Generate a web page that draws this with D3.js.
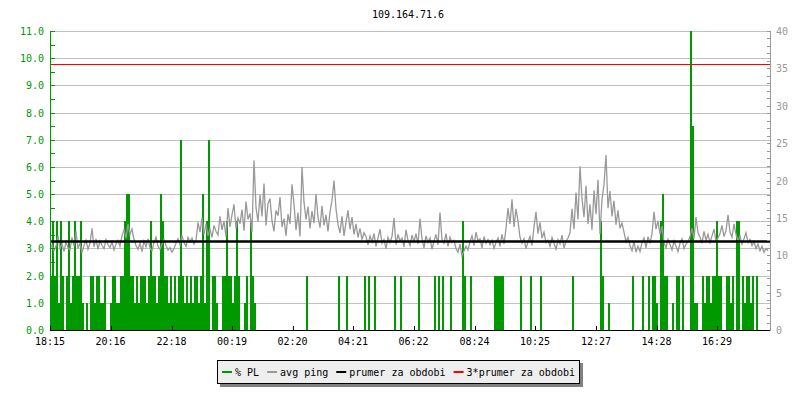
<!DOCTYPE html>
<html>
<head>
<meta charset="utf-8">
<script src="https://cdn.jsdelivr.net/npm/d3@7"></script>
<style>
	body { margin: 0; background: #fff; }
	text { font-family: "DejaVu Sans Mono", monospace; font-size: 10px; }
</style>
</head>
<body>
<script>
var title = "109.164.71.6";
var startTime = new Date(2024, 0, 1, 18, 15);
var stepMinutes = 4;
var totalMinutes = 1440;

var timeLabels = ["18:15", "20:16", "22:18", "00:19", "02:20", "04:21", "06:22", "08:24", "10:25", "12:27", "14:28", "16:29"];
var plTicks = [0, 1, 2, 3, 4, 5, 6, 7, 8, 9, 10, 11];
var pingTicks = [0, 5, 10, 15, 20, 25, 30, 35, 40];

var legendLabels = ["% PL", "avg ping", "prumer za obdobi", "3*prumer za obdobi"];

// avg ping (ms), one value every 4 minutes
var pingValues = [
	10.8, 11.4, 10.6, 11.2, 12.6, 10.9, 11.5, 10.5, 11.8, 11.0,
	10.7, 12.4, 11.2, 13.2, 10.9, 11.6, 10.4, 11.3, 12.0, 10.8,
	11.6, 13.6, 11.1, 12.2, 10.8, 11.9, 11.3, 10.9, 12.1, 11.4,
	11.0, 11.8, 10.7, 11.5, 12.0, 11.2, 12.6, 13.4, 12.3, 14.2,
	12.8, 13.5, 12.1, 11.3, 10.8, 11.6, 10.5, 11.9, 11.1, 12.2,
	11.0, 10.6, 11.7, 12.4, 11.2, 10.8, 11.5, 12.1, 11.3, 10.7,
	11.0, 10.4, 10.9, 11.6, 12.2, 11.4, 12.6, 11.7, 11.2, 12.4,
	11.8, 12.3, 11.5, 12.0, 14.4, 13.1, 15.0, 12.8, 14.2, 12.6,
	13.5, 12.4, 14.0, 13.2, 12.7, 15.2, 13.4, 14.6, 12.5, 16.3,
	13.8, 15.4, 16.8, 13.6, 15.0, 14.2, 16.1, 13.3, 17.2, 14.8,
	15.6, 13.1, 22.7, 16.4, 14.5, 18.1, 15.2, 19.6, 14.0, 16.9,
	17.6, 14.6, 13.2, 16.0, 15.3, 17.8, 13.8, 14.9, 12.6, 15.5,
	14.2, 19.5, 16.8, 13.4, 15.7, 12.5, 21.8, 17.1, 14.8, 16.5,
	13.6, 15.9, 14.3, 18.2, 15.1, 13.7, 16.6, 14.0, 15.4, 13.2,
	15.8, 17.3, 20.0, 16.2, 14.1, 13.0, 15.2, 12.6, 14.4, 16.0,
	13.5, 15.1, 12.8, 14.2, 12.4, 13.6, 12.1, 13.0, 12.5, 11.4,
	12.6, 11.8, 12.9, 11.2, 12.3, 13.5, 11.6, 12.1, 10.9, 12.4,
	11.7, 12.5, 15.0, 11.4, 12.8, 11.9, 12.3, 11.1, 13.4, 12.0,
	11.3, 12.7, 11.8, 12.9, 11.5, 14.9, 12.2, 11.0, 12.6, 11.7,
	12.3, 10.8, 11.9, 12.8, 11.4, 15.7, 12.1, 11.6, 12.9, 11.2,
	12.4, 11.7, 12.0, 10.9, 10.4, 11.5, 9.9, 10.6, 11.2, 10.7,
	11.8, 12.6, 11.3, 13.1, 11.9, 12.2, 11.0, 12.5, 11.6, 12.1,
	11.4, 12.0, 10.9, 11.7, 12.3, 11.2, 12.8, 11.5, 13.6, 16.3,
	14.2, 17.5, 13.8, 16.2, 14.6, 12.4, 11.6, 12.2, 10.9, 11.8,
	12.5, 11.3, 13.8, 15.8, 12.9, 14.4, 12.3, 13.1, 11.7, 12.0,
	11.2, 12.4, 11.6, 10.8, 12.1, 11.5, 12.7, 11.0, 11.9, 12.3,
	13.0, 16.2, 13.5, 18.4, 14.8, 21.9, 17.6, 15.1, 19.3, 14.2,
	16.8, 13.4, 18.7, 15.5, 20.1, 12.8, 17.4, 19.5, 23.4, 16.3,
	18.6, 15.2, 17.3, 14.1, 16.0, 13.6, 14.3, 13.1, 11.8, 12.4,
	11.3, 10.6, 11.9, 10.4, 11.2, 10.5, 11.7, 12.3, 11.0, 12.5,
	11.6, 12.9, 15.8, 13.5, 14.6, 12.8, 13.9, 11.7, 11.0, 12.1,
	11.4, 10.7, 11.9, 11.2, 10.5, 11.6, 12.2, 10.9, 11.5, 11.8,
	12.5, 13.6, 12.2, 15.1, 13.0, 12.4, 11.6, 13.2, 12.0, 12.8,
	11.7, 12.6, 13.5, 11.9, 12.3, 12.9, 14.0, 12.5, 13.3, 15.4,
	13.1, 12.4, 14.2, 12.8, 11.9, 12.6, 11.5, 12.2, 13.0, 11.7,
	12.1, 11.3, 11.8, 10.9, 11.5, 10.6, 11.2, 10.4, 10.9, 10.6
];

// packet loss (%), same 4 minute steps
var plValues = [
	2, 4, 2, 4, 1, 4, 2, 0, 2, 4,
	1, 2, 4, 2, 2, 4, 1, 0, 1, 0,
	2, 2, 1, 2, 2, 1, 1, 2, 0, 0,
	1, 2, 2, 1, 1, 2, 2, 4, 5, 5,
	2, 2, 1, 2, 1, 2, 2, 2, 1, 2,
	4, 2, 2, 1, 2, 5, 4, 2, 2, 1,
	2, 1, 2, 1, 2, 7, 2, 1, 2, 1,
	2, 1, 2, 2, 1, 2, 5, 1, 4, 7,
	0, 2, 2, 1, 0, 0, 2, 2, 4, 2,
	2, 1, 2, 4, 2, 0, 0, 1, 2, 0,
	4, 2, 1, 0, 0, 0, 0, 0, 0, 0,
	0, 0, 0, 0, 0, 0, 0, 0, 0, 0,
	0, 0, 0, 0, 0, 0, 0, 0, 2, 0,
	0, 0, 0, 0, 0, 0, 0, 0, 0, 0,
	0, 0, 0, 0, 2, 0, 0, 0, 2, 0,
	0, 0, 0, 0, 0, 0, 0, 2, 0, 2,
	0, 0, 2, 0, 0, 0, 0, 0, 0, 0,
	0, 0, 2, 0, 0, 2, 0, 0, 0, 0,
	0, 0, 0, 0, 2, 0, 0, 0, 0, 0,
	0, 0, 2, 0, 2, 0, 2, 0, 0, 0,
	2, 0, 0, 0, 0, 0, 4, 2, 0, 0,
	2, 0, 0, 0, 0, 0, 0, 0, 0, 0,
	0, 0, 2, 2, 2, 2, 2, 0, 0, 0,
	0, 0, 0, 0, 0, 2, 0, 0, 0, 0,
	2, 0, 0, 0, 0, 2, 0, 0, 0, 0,
	0, 0, 0, 0, 0, 0, 0, 0, 0, 0,
	0, 2, 0, 0, 0, 0, 0, 0, 0, 0,
	0, 0, 0, 0, 0, 4, 2, 0, 0, 1,
	0, 0, 0, 0, 0, 0, 0, 0, 0, 0,
	0, 2, 0, 0, 0, 0, 2, 0, 0, 2,
	0, 2, 2, 1, 0, 4, 5, 2, 2, 0,
	0, 1, 0, 2, 2, 0, 2, 0, 0, 0,
	11, 7.5, 1, 1, 0, 0, 2, 1, 2, 2,
	1, 2, 2, 4, 2, 2, 0, 0, 2, 2,
	1, 2, 0, 4, 4, 0, 2, 1, 2, 2,
	1, 2, 0, 2, 0, 0, 0, 0, 0, 0
];

var pingMean = 11.84;

var width = 800;
var height = 400;
var plotLeft = 50, plotRight = 770, plotTop = 31, plotBottom = 330;

var green = "#009900";
var grey = "#999999";

var svg = d3.select("body").append("svg")
	.attr("width", width)
	.attr("height", height);

var endTime = d3.timeMinute.offset(startTime, totalMinutes);
var x = d3.scaleTime().domain([startTime, endTime]).range([plotLeft, plotRight]);
var yPL = d3.scaleLinear().domain([0, 11]).range([plotBottom, plotTop]);
var yPing = d3.scaleLinear().domain([0, 40]).range([plotBottom, plotTop]);

function sampleTime(i) {
	return d3.timeMinute.offset(startTime, i * stepMinutes);
}

function labelTime(s) {
	var p = s.split(":");
	var m = (+p[0] * 60 + +p[1]) - (startTime.getHours() * 60 + startTime.getMinutes());
	if (m < 0) m += 1440;
	return d3.timeMinute.offset(startTime, m);
}

/* title */
svg.append("text")
	.attr("x", 408)
	.attr("y", 18)
	.attr("text-anchor", "middle")
	.attr("fill", "#000")
	.text(title);

/* grid */
svg.append("g")
	.selectAll("line")
	.data(plTicks)
	.enter().append("line")
		.attr("x1", plotLeft)
		.attr("x2", plotRight)
		.attr("y1", function(d) { return Math.round(yPL(d)) + 0.5; })
		.attr("y2", function(d) { return Math.round(yPL(d)) + 0.5; })
		.attr("stroke", "#c0c0c0");

/* packet loss bars */
var plData = plValues.map(function(v, i) { return { t: sampleTime(i), t2: sampleTime(i + 1), v: v }; })
	.filter(function(d) { return d.v > 0; });

svg.append("g")
	.attr("shape-rendering", "crispEdges")
	.selectAll("rect")
	.data(plData)
	.enter().append("rect")
		.attr("x", function(d) { return x(d.t); })
		.attr("width", function(d) { return x(d.t2) - x(d.t); })
		.attr("y", function(d) { return yPL(d.v); })
		.attr("height", function(d) { return yPL(0) - yPL(d.v); })
		.attr("fill", green);

/* avg ping */
var pingData = pingValues.map(function(v, i) { return { t: sampleTime(i), v: v }; });

var pingLine = d3.line()
	.x(function(d) { return x(d.t); })
	.y(function(d) { return yPing(d.v); });

svg.append("path")
	.datum(pingData)
	.attr("d", pingLine)
	.attr("fill", "none")
	.attr("stroke", grey)
	.attr("stroke-width", 1.3);

/* mean lines */
svg.append("line")
	.attr("x1", plotLeft).attr("x2", plotRight)
	.attr("y1", yPing(pingMean)).attr("y2", yPing(pingMean))
	.attr("stroke", "#000")
	.attr("stroke-width", 2.5);

svg.append("line")
	.attr("x1", plotLeft).attr("x2", plotRight)
	.attr("y1", Math.round(yPing(3 * pingMean)) + 0.5).attr("y2", Math.round(yPing(3 * pingMean)) + 0.5)
	.attr("stroke", "#ff0000");

/* left axis */
var leftAxis = d3.axisRight(yPL)
	.tickValues(d3.range(0, 11.01, 0.5))
	.tickSize(4)
	.tickFormat("");

var gl = svg.append("g")
	.attr("transform", "translate(" + (plotLeft + 0.5) + ",0)")
	.attr("shape-rendering", "crispEdges")
	.call(leftAxis);
gl.select(".domain").attr("stroke", green).attr("d", "M0," + plotTop + "V" + plotBottom);
gl.selectAll(".tick line").attr("stroke", green);

svg.append("g")
	.selectAll("text")
	.data(plTicks)
	.enter().append("text")
		.attr("x", plotLeft - 6)
		.attr("y", function(d) { return yPL(d) + 4; })
		.attr("text-anchor", "end")
		.attr("fill", green)
		.text(function(d) { return d3.format(".1f")(d); });

/* right axis */
var rightAxis = d3.axisLeft(yPing)
	.tickValues(d3.range(0, 40.01, 1))
	.tickSize(4)
	.tickFormat("");

var gr = svg.append("g")
	.attr("transform", "translate(" + (plotRight + 0.5) + ",0)")
	.attr("shape-rendering", "crispEdges")
	.call(rightAxis);
gr.select(".domain").attr("stroke", grey).attr("d", "M0," + plotTop + "V" + plotBottom);
gr.selectAll(".tick line").attr("stroke", grey);

svg.append("g")
	.selectAll("text")
	.data(pingTicks)
	.enter().append("text")
		.attr("x", plotRight + 6)
		.attr("y", function(d) { return yPing(d) + 4; })
		.attr("fill", grey)
		.text(function(d) { return d; });

/* bottom axis */
var tickTimes = timeLabels.map(labelTime);

var bottomAxis = d3.axisTop(x)
	.tickValues(tickTimes)
	.tickSize(5)
	.tickFormat("");

var gb = svg.append("g")
	.attr("transform", "translate(0," + (plotBottom + 0.5) + ")")
	.attr("shape-rendering", "crispEdges")
	.call(bottomAxis);
gb.select(".domain").attr("stroke", "#000").attr("d", "M" + plotLeft + ",0H" + plotRight);
gb.selectAll(".tick line").attr("stroke", "#000");

svg.append("g")
	.selectAll("text")
	.data(timeLabels)
	.enter().append("text")
		.attr("x", function(d) { return x(labelTime(d)); })
		.attr("y", 345)
		.attr("text-anchor", "middle")
		.attr("fill", "#000")
		.text(function(d) { return d; });

/* legend */
var legendColors = [green, grey, "#000", "#ff0000"];
var lg = svg.append("g");
var shadow = lg.append("rect").attr("fill", "#808080");
var box = lg.append("rect").attr("fill", "#eeeeee").attr("stroke", "#000").attr("shape-rendering", "crispEdges");

var lx = 222;
var ly = 372;
legendLabels.forEach(function(label, i) {
	lg.append("line")
		.attr("x1", lx).attr("x2", lx + 10)
		.attr("y1", ly).attr("y2", ly)
		.attr("stroke", legendColors[i])
		.attr("stroke-width", 2);
	var t = lg.append("text")
		.attr("x", lx + 13)
		.attr("y", ly + 3.5)
		.attr("fill", "#000")
		.text(label);
	lx = lx + 13 + t.node().getComputedTextLength() + 8;
});

box.attr("x", 217.5).attr("y", 360.5).attr("width", lx - 4 - 217).attr("height", 23);
shadow.attr("x", 220).attr("y", 363).attr("width", lx - 4 - 217 + 1).attr("height", 24);
</script>
</body>
</html>
